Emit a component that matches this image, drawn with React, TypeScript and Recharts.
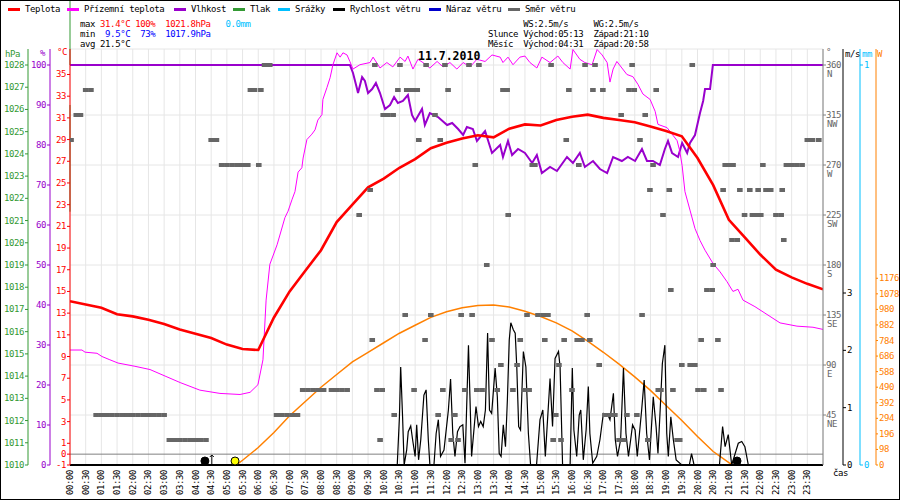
import {
  ComposedChart,
  Line,
  Scatter,
  XAxis,
  YAxis,
  CartesianGrid,
  ReferenceLine,
} from "recharts";

const MONO = "'DejaVu Sans Mono', monospace";

// popisky časové osy (po půlhodinách)
const casy = [
  "00:00", "00:30", "01:00", "01:30", "02:00", "02:30", "03:00", "03:30",
  "04:00", "04:30", "05:00", "05:30", "06:00", "06:30", "07:00", "07:30",
  "08:00", "08:30", "09:00", "09:30", "10:00", "10:30", "11:00", "11:30",
  "12:00", "12:30", "13:00", "13:30", "14:00", "14:30", "15:00", "15:30",
  "16:00", "16:30", "17:00", "17:30", "18:00", "18:30", "19:00", "19:30",
  "20:00", "20:30", "21:00", "21:30", "22:00", "22:30", "23:00", "23:30",
];

// ticky os
const tickyTeplota = [-1, 0, 1, 3, 5, 7, 9, 11, 13, 15, 17, 19, 21, 23, 25, 27, 29, 31, 33, 35];
const tickyVlhkost = [0, 10, 20, 30, 40, 50, 60, 70, 80, 90, 100];
const tickyTlak = [1010, 1011, 1012, 1013, 1014, 1015, 1016, 1017, 1018, 1019, 1020, 1021, 1022, 1023, 1024, 1025, 1026, 1027, 1028];
const tickySmer = [45, 90, 135, 180, 225, 270, 315, 360];
const popiskySmer = ["NE", "E", "SE", "S", "SW", "W", "NW", "N"];
const tickyVitr = [0, 1, 2, 3];
const tickySrazky = [0, 1];
const tickySvit = [0, 98, 196, 294, 392, 490, 588, 686, 784, 882, 980, 1078, 1176];

// teplota po půlhodinách 00:00 .. 24:00 [°C]
const teplota = [
  14.1, 13.8, 13.5, 12.9, 12.7, 12.4, 12.0, 11.5, 11.1, 10.7, 10.1, 9.7,
  9.6, 12.6, 15.0, 16.9, 18.8, 21.4, 23.0, 24.6, 25.4, 26.4, 27.2, 28.2,
  28.7, 29.1, 29.4, 29.2, 30.0, 30.4, 30.3, 30.8, 31.1, 31.3, 31.0, 30.8,
  30.6, 30.2, 29.8, 29.3, 27.3, 24.8, 21.6, 20.0, 18.4, 17.0, 16.3, 15.7,
  15.2,
];

// přízemní teplota [hodina, °C]
const prizemni = [
  [0, 9.6], [0.38, 9.6], [0.48, 9.4], [0.86, 9.3], [1.02, 9.0], [1.27, 8.7],
  [1.53, 8.4], [2.07, 8.1], [2.55, 7.8], [3.03, 7.2], [3.51, 6.6], [4.14, 5.9],
  [4.78, 5.6], [5.42, 5.5], [5.74, 5.7], [5.99, 6.4], [6.15, 8.7], [6.25, 14.2],
  [6.37, 17.5], [6.6, 19.3], [6.69, 20.2], [6.85, 21.8], [6.95, 22.4], [7.08, 23.5],
  [7.17, 24.2], [7.27, 26.0], [7.39, 26.4], [7.43, 27.3], [7.55, 29.0], [7.71, 29.5],
  [7.81, 29.9], [7.9, 30.8], [8.03, 31.3], [8.06, 32.7], [8.19, 33.8], [8.29, 34.7],
  [8.38, 35.9], [8.51, 37.0], [8.61, 36.6], [8.7, 37.0], [8.83, 36.8], [8.92, 36.2],
  [9.02, 35.5], [9.24, 35.9], [9.56, 36.1], [9.66, 36.6], [9.88, 35.6], [10.1, 36.1],
  [10.29, 35.7], [10.52, 36.6], [10.68, 36.2], [10.77, 36.7], [10.93, 35.5], [11.09, 36.4],
  [11.25, 36.1], [11.47, 35.6], [11.7, 36.2], [11.89, 35.7], [12.11, 36.1], [12.33, 35.5],
  [12.53, 36.1], [12.75, 35.7], [12.97, 36.4], [13.23, 36.2], [13.45, 36.8], [13.71, 36.6],
  [13.8, 36.1], [13.96, 36.6], [14.12, 35.9], [14.34, 36.6], [14.5, 36.7], [14.66, 36.1],
  [14.88, 35.6], [15.04, 36.6], [15.3, 36.1], [15.55, 36.7], [15.71, 36.1], [15.94, 35.5],
  [16.03, 37.3], [16.25, 36.4], [16.41, 36.1], [16.64, 35.9], [16.8, 37.3], [16.96, 36.8],
  [17.12, 36.1], [17.21, 34.3], [17.31, 35.5], [17.43, 36.2], [17.59, 35.6], [17.75, 35.0],
  [17.94, 34.8], [18.1, 34.1], [18.26, 33.2], [18.49, 32.7], [18.65, 31.6], [18.74, 30.4],
  [19.03, 30.1], [19.19, 29.5], [19.35, 28.9], [19.43, 28.0], [19.51, 26.6], [19.6, 24.2],
  [19.76, 22.5], [19.92, 20.8], [20.08, 19.7], [20.24, 18.8], [20.49, 17.6], [20.72, 16.8],
  [20.94, 15.9], [21.13, 15.0], [21.29, 15.2], [21.45, 14.2], [21.83, 13.6], [22.15, 13.0],
  [22.63, 12.1], [23.17, 11.8], [23.68, 11.7], [24, 11.5],
];

// vlhkost [hodina, %]
const vlhkost = [
  [0, 100], [8.92, 100], [9.02, 98], [9.15, 94], [9.18, 93], [9.31, 97], [9.4, 96],
  [9.5, 93], [9.63, 94], [9.75, 95.5], [9.88, 93], [10.04, 89], [10.2, 90], [10.33, 92],
  [10.45, 90.5], [10.61, 91], [10.77, 92.5], [10.9, 87.5], [11.0, 86], [11.22, 89],
  [11.31, 85], [11.47, 88], [11.73, 87], [12.02, 85], [12.18, 85.5], [12.37, 84],
  [12.53, 82.5], [12.65, 84.5], [12.84, 84], [12.97, 81], [13.23, 83.5], [13.45, 78],
  [13.71, 80], [13.8, 77], [13.96, 81], [14.09, 77.5], [14.28, 79], [14.5, 78],
  [14.73, 75.5], [14.88, 77.5], [15.04, 73], [15.3, 74.5], [15.52, 73.5], [15.84, 77],
  [16.03, 75.5], [16.25, 78], [16.41, 74.5], [16.67, 76], [16.89, 74], [17.12, 73],
  [17.31, 77], [17.59, 76], [17.78, 77], [18.01, 76], [18.23, 79], [18.39, 76],
  [18.58, 76], [18.8, 75], [18.96, 79], [19.06, 81], [19.19, 78], [19.38, 77],
  [19.51, 80.5], [19.67, 78], [19.76, 80.5], [19.92, 82.5], [20.08, 88], [20.18, 91],
  [20.24, 94], [20.4, 94], [20.49, 100], [24, 100],
];

// rychlost větru [hodina, m/s]
const vitr = [
  [0, 0], [10.43, 0], [10.5, 0.84], [10.54, 1.71], [10.6, 0.84], [10.65, 0], [10.73, 0.26],
  [10.78, 0.58], [10.86, 0.68], [10.92, 0.44], [11.0, 0.15], [11.05, 0.7], [11.11, 0.09],
  [11.18, 0.44], [11.28, 1.22], [11.35, 1.31], [11.42, 0.44], [11.47, 0], [11.6, 0],
  [11.67, 0.55], [11.74, 0.79], [11.81, 0.15], [11.92, 0.26], [12.06, 0.96], [12.13, 1.5],
  [12.2, 0.55], [12.27, 0.15], [12.35, 0.58], [12.43, 0.67], [12.52, 0.7], [12.59, 0.03],
  [12.7, 2.09], [12.75, 1.13], [12.8, 0.15], [12.94, 1.02], [13.02, 0.67], [13.09, 0.76],
  [13.17, 0.67], [13.24, 0.96], [13.31, 2.3], [13.37, 0.96], [13.44, 0.9], [13.55, 1.69],
  [13.62, 1.19], [13.68, 0.2], [13.74, 0.15], [13.81, 0.7], [13.88, 0.32], [13.94, 1.13],
  [14.0, 2.18], [14.05, 2.48], [14.13, 2.36], [14.19, 2.3], [14.24, 1.71], [14.3, 0.67],
  [14.36, 0.61], [14.45, 1.98], [14.53, 1.71], [14.61, 0.55], [14.68, 0], [14.87, 0],
  [14.98, 0.79], [15.07, 0.96], [15.15, 0.15], [15.3, 1.51], [15.38, 0.67], [15.46, 1.86],
  [15.57, 1.98], [15.62, 1.71], [15.7, 0], [15.94, 0], [16.01, 1.69], [16.06, 0.61],
  [16.15, 0.15], [16.23, 0.87], [16.28, 0.96], [16.36, 0.09], [16.45, 0.61], [16.52, 1.37],
  [16.57, 0.55], [16.66, 0.03], [16.79, 0.15], [16.89, 0.44], [17.0, 0.9], [17.13, 0.89],
  [17.21, 0.79], [17.32, 1.25], [17.38, 0.44], [17.45, 0.15], [17.55, 0.44], [17.64, 1.69],
  [17.72, 0.55], [17.8, 0.15], [17.87, 0.44], [17.93, 0.7], [18.01, 0.61], [18.08, 0.15],
  [18.15, 0.55], [18.22, 0.96], [18.3, 1.48], [18.38, 0.55], [18.47, 0.09], [18.59, 1.19],
  [18.68, 0.67], [18.74, 0.2], [18.81, 0.96], [18.88, 1.77], [18.96, 2.09], [19.02, 0.55],
  [19.07, 0.15], [19.15, 0.84], [19.23, 0.44], [19.32, 0.09], [19.5, 0], [19.74, 0],
  [19.81, 0.2], [19.89, 0], [20.7, 0], [20.8, 0.67], [20.88, 0.32], [20.98, 0.53],
  [21.09, 0], [21.3, 0.38], [21.41, 0.41], [21.51, 0.32], [21.62, 0], [24, 0],
];

// srážky [hodina, mm]
const srazky = [[10.45, 0], [21.6, 0]];

// sluneční svit (teoretický) [hodina, W]
const svit = [
  [5.3, 0], [5.5, 30], [6, 110], [6.5, 205], [7, 310], [7.5, 400], [8, 490],
  [8.5, 570], [9, 650], [9.5, 710], [10, 770], [10.5, 830], [11, 880], [11.5, 930],
  [12, 965], [12.5, 990], [13, 1005], [13.5, 1008], [14, 995], [14.5, 968], [15, 935],
  [15.5, 895], [16, 845], [16.5, 780], [17, 710], [17.5, 635], [18, 555], [18.5, 470],
  [19, 375], [19.5, 280], [20, 180], [20.5, 85], [21, 15], [21.12, 0],
];

// směr větru [minuta, °]
const smer = [
  [2, 292.5], [12, 315], [20, 315], [30, 337.5], [40, 337.5],
  [50, 45], [60, 45], [70, 45], [80, 45], [90, 45], [100, 45], [110, 45],
  [120, 45], [130, 45], [140, 45], [150, 45], [160, 45], [170, 45], [180, 45],
  [190, 22.5], [200, 22.5], [210, 22.5], [220, 22.5], [230, 22.5], [240, 22.5],
  [250, 22.5], [260, 22.5], [270, 292.5], [280, 292.5],
  [290, 270], [300, 270], [310, 270], [320, 270], [330, 270], [340, 270],
  [345, 337.5], [353, 337.5], [361, 270], [365, 337.5], [372, 360], [382, 360],
  [395, 45], [405, 45], [415, 45], [425, 45], [435, 45],
  [445, 67.5], [455, 67.5], [465, 67.5], [475, 67.5], [485, 67.5], [500, 67.5],
  [510, 67.5], [520, 67.5], [530, 67.5],
  [553, 225], [574, 247.5], [578, 112.5], [583, 360], [587, 67.5], [593, 22.5],
  [597, 67.5], [599, 315], [608, 315], [618, 315], [620, 45], [627, 337.5], [631, 360],
  [641, 135], [644, 337.5], [650, 337.5], [656, 337.5], [658, 67.5], [664, 337.5],
  [667, 292.5], [679, 112.5], [681, 360], [690, 135], [698, 315], [704, 45],
  [708, 292.5], [713, 67.5], [717, 360], [723, 337.5], [729, 22.5], [736, 45],
  [742, 22.5], [748, 135], [755, 67.5], [763, 360], [769, 135], [775, 270],
  [778, 67.5], [782, 360], [788, 67.5], [797, 180], [807, 112.5], [817, 67.5],
  [824, 90], [828, 337.5], [836, 337.5], [838, 225], [847, 67.5], [855, 90],
  [861, 112.5], [868, 67.5], [874, 135], [878, 67.5], [884, 270], [889, 270],
  [895, 135], [905, 135], [908, 112.5], [914, 135], [920, 360], [924, 22.5],
  [929, 45], [935, 90], [939, 22.5], [945, 112.5], [949, 292.5], [954, 337.5],
  [960, 67.5], [970, 112.5], [973, 270], [979, 112.5], [985, 360], [989, 135],
  [994, 112.5], [1000, 337.5], [1004, 360], [1012, 90], [1019, 337.5], [1023, 45],
  [1033, 45], [1042, 45], [1050, 22.5], [1054, 315], [1059, 22.5], [1065, 45],
  [1069, 337.5], [1075, 360], [1079, 337.5], [1084, 45], [1090, 292.5], [1094, 135],
  [1100, 315], [1105, 22.5], [1109, 247.5], [1115, 270], [1121, 337.5], [1125, 67.5],
  [1130, 67.5], [1134, 225], [1146, 247.5], [1149, 157.5], [1153, 67.5], [1161, 22.5],
  [1166, 22.5], [1170, 90], [1186, 90], [1190, 360], [1195, 90], [1201, 67.5],
  [1207, 112.5], [1212, 67.5], [1218, 157.5], [1228, 157.5], [1230, 180], [1239, 112.5],
  [1245, 67.5], [1249, 247.5], [1253, 270], [1260, 270], [1266, 202.5], [1268, 270],
  [1276, 202.5], [1281, 247.5], [1290, 225], [1300, 247.5], [1305, 225], [1311, 225],
  [1316, 247.5], [1321, 225], [1325, 270], [1331, 247.5], [1340, 247.5], [1350, 225],
  [1360, 225], [1362, 247.5], [1365, 202.5], [1370, 270], [1380, 270], [1390, 270],
  [1400, 270], [1410, 292.5], [1420, 292.5], [1432, 292.5],
];

// východ / západ [hodina, druh]
const udalosti: [number, string][] = [
  [4.3, "mesic"], [4.52, "sipka"], [5.26, "slunce"], [21.26, "mesic"],
];

const MARK_Y = -0.63;

const body = (arr: number[][]) => arr.map(([h, v]) => ({ h, v }));

const ValTick = (props: any) => {
  const { x, y, payload, textAnchor, barva } = props;
  return (
    <text x={x} y={y} dy={3} textAnchor={textAnchor} fill={barva}
      fontSize={9} fontFamily={MONO} letterSpacing={-0.4}>
      {payload.value}
    </text>
  );
};

const SmerTick = (props: any) => {
  const { x, y, payload } = props;
  const i = tickySmer.indexOf(payload.value);
  return (
    <g fill="#666" fontSize={9} fontFamily={MONO} letterSpacing={-0.4}>
      <text x={x} y={y} dy={3} textAnchor="start">{payload.value}</text>
      <text x={x + 1} y={y + 9} dy={3} textAnchor="start">{popiskySmer[i]}</text>
    </g>
  );
};

const CasTick = (props: any) => {
  const { x, y, payload } = props;
  const label = casy[Math.round(payload.value * 2)];
  return (
    <text transform={`translate(${x},${y - 3}) rotate(-90)`} dy={3} textAnchor="end"
      fill="#000" fontSize={9} fontFamily={MONO} letterSpacing={-0.4}>
      {label}
    </text>
  );
};

const SmerDot = (props: any) => {
  const { cx, cy } = props;
  return <rect x={cx - 2.8} y={cy - 2} width={5.6} height={4} fill="#666" />;
};

const Udalost = (props: any) => {
  const { cx, cy, payload } = props;
  if (payload.druh === "sipka") {
    return (
      <g stroke="#000" strokeWidth={1} fill="none">
        <line x1={cx} y1={cy + 4} x2={cx} y2={cy - 6} />
        <polyline points={`${cx - 2},${cy - 4} ${cx},${cy - 6} ${cx + 2},${cy - 4}`} />
      </g>
    );
  }
  const fill = payload.druh === "slunce" ? "#ffff00" : "#000";
  return <circle cx={cx} cy={cy} r={4} fill={fill} stroke="#000" strokeWidth={1} />;
};

const legenda = [
  ["Teplota", "#ff0000"],
  ["Přízemní teplota", "#ff00ff"],
  ["Vlhkost", "#9900cc"],
  ["Tlak", "#339933"],
  ["Srážky", "#00bfff"],
  ["Rychlost větru", "#000000"],
  ["Náraz větru", "#0000cc"],
  ["Směr větru", "#666666"],
];
const legendaX = [25, 84, 191, 250, 295, 350, 446, 525];

const txt: React.CSSProperties = {
  position: "absolute",
  fontFamily: MONO,
  fontSize: 9,
  letterSpacing: -0.4,
  lineHeight: "10px",
  whiteSpace: "pre",
  color: "#000",
};

// id os: pořadí od grafu ven
const OS_TEPLOTA = "a1";
const OS_VLHKOST = "a2";
const OS_TLAK = "a3";
const OS_SMER = "b1";
const OS_VITR = "b2";
const OS_SRAZKY = "b3";
const OS_SVIT = "b4";

export default function App() {
  const teplotaPts = teplota.map((v, i) => ({ h: i * 0.5, v }));
  const smerPts = smer.map(([m, v]) => ({ h: m / 60, v }));
  const udalostPts = udalosti.map(([h, druh]) => ({ h, v: MARK_Y, druh }));
  const xTicky = casy.map((_, i) => i * 0.5);

  return (
    <div style={{ position: "absolute", left: 0, top: 0, width: 900, height: 500, background: "#fff", overflow: "hidden" }}>
      <ComposedChart width={900} height={500} margin={{ top: 49, right: 0, bottom: 0, left: 0 }}>
        <CartesianGrid yAxisId={OS_SMER} stroke="#e6e6e6" />
        <XAxis dataKey="h" type="number" domain={[0, 24]} ticks={xTicky} interval={0}
          allowDataOverflow height={35} tickLine={false}
          axisLine={{ stroke: "#000", strokeWidth: 2 }} tick={<CasTick />} />
        <YAxis yAxisId={OS_TEPLOTA} orientation="left" width={20} domain={[-1, 37.35]} allowDataOverflow
          ticks={tickyTeplota} interval={0} stroke="#ff0000" tickSize={3} tickMargin={1}
          tick={<ValTick barva="#ff0000" />} />
        <YAxis yAxisId={OS_VLHKOST} orientation="left" width={22} domain={[0, 104]} allowDataOverflow
          ticks={tickyVlhkost} interval={0} stroke="#9900cc" tickSize={3} tickMargin={1}
          tick={<ValTick barva="#9900cc" />} />
        <YAxis yAxisId={OS_TLAK} orientation="left" width={28} domain={[1010, 1028.72]} allowDataOverflow
          ticks={tickyTlak} interval={0} stroke="#339933" tickSize={3} tickMargin={1}
          tick={<ValTick barva="#339933" />} />
        <YAxis yAxisId={OS_SMER} orientation="right" width={20} domain={[0, 374.4]} allowDataOverflow
          ticks={tickySmer} interval={0} stroke="#808080" tickSize={3} tickMargin={0}
          tick={<SmerTick />} />
        <YAxis yAxisId={OS_VITR} orientation="right" width={17} domain={[0, 7.256]} allowDataOverflow
          ticks={tickyVitr} interval={0} stroke="#000" tickSize={3} tickMargin={1}
          tick={<ValTick barva="#000" />} />
        <YAxis yAxisId={OS_SRAZKY} orientation="right" width={16} domain={[0, 1.04]} allowDataOverflow
          ticks={tickySrazky} interval={0} stroke="#00bfff" tickSize={3} tickMargin={1}
          tick={<ValTick barva="#00bfff" />} />
        <YAxis yAxisId={OS_SVIT} orientation="right" width={24} domain={[0, 2620]} allowDataOverflow
          ticks={tickySvit} interval={0} stroke="#ff8000" tickSize={2} tickMargin={1}
          tick={<ValTick barva="#ff8000" />} />

        <ReferenceLine yAxisId={OS_TEPLOTA} y={0} stroke="#808080" />
        <ReferenceLine yAxisId={OS_TLAK} ifOverflow="visible" stroke="#339933"
          segment={[{ x: 0, y: 1021.4 }, { x: 0, y: 1026.2 }]} />
        <ReferenceLine yAxisId={OS_TLAK} ifOverflow="visible" stroke="#339933"
          segment={[{ x: 0, y: 1028 }, { x: 0, y: 1030.9 }]} />

        <Line data={body(svit)} dataKey="v" yAxisId={OS_SVIT} stroke="#ff8000" strokeWidth={1.5}
          dot={false} isAnimationActive={false} />
        <Line data={body(vlhkost)} dataKey="v" yAxisId={OS_VLHKOST} stroke="#9900cc" strokeWidth={2}
          dot={false} isAnimationActive={false} />
        <Line data={body(prizemni)} dataKey="v" yAxisId={OS_TEPLOTA} stroke="#ff00ff" strokeWidth={1}
          dot={false} isAnimationActive={false} />
        <Scatter data={smerPts} dataKey="v" yAxisId={OS_SMER} shape={<SmerDot />} isAnimationActive={false} />
        <Line data={teplotaPts} dataKey="v" yAxisId={OS_TEPLOTA} stroke="#ff0000" strokeWidth={2.6}
          dot={false} isAnimationActive={false} />
        <Line data={body(srazky)} dataKey="v" yAxisId={OS_SRAZKY} stroke="#00bfff" strokeWidth={2}
          dot={false} isAnimationActive={false} />
        <Line data={body(vitr)} dataKey="v" yAxisId={OS_VITR} stroke="#000" strokeWidth={1.2}
          dot={false} isAnimationActive={false} />
        <Scatter data={udalostPts} dataKey="v" yAxisId={OS_TEPLOTA} shape={<Udalost />} isAnimationActive={false} />
      </ComposedChart>

      {legenda.map(([name, color], i) => (
        <div key={name}>
          <div style={{ position: "absolute", left: legendaX[i] - 17, top: 8, width: 12, height: 3, background: color }} />
          <div style={{ ...txt, left: legendaX[i], top: 4 }}>{name}</div>
        </div>
      ))}

      <div style={{ ...txt, left: 80, top: 19 }}>
        max <span style={{ color: "#ff0000" }}>31.4°C 100%  1021.8hPa</span>   <span style={{ color: "#00bfff" }}>0.0mm</span>
      </div>
      <div style={{ ...txt, left: 80, top: 29 }}>
        min  <span style={{ color: "#0000ff" }}>9.5°C  73%  1017.9hPa</span>
      </div>
      <div style={{ ...txt, left: 80, top: 39 }}>avg 21.5°C</div>

      <div style={{ ...txt, left: 488, top: 19 }}>{"       WS:2.5m/s     WG:2.5m/s"}</div>
      <div style={{ ...txt, left: 488, top: 29 }}>{"Slunce Východ:05:13  Západ:21:10"}</div>
      <div style={{ ...txt, left: 488, top: 39 }}>{"Měsíc  Východ:04:31  Západ:20:58"}</div>

      <div style={{ ...txt, left: 418, top: 50, fontSize: 11.5, letterSpacing: 0, fontWeight: "bold", lineHeight: "13px" }}>11.7.2010</div>

      <div style={{ ...txt, left: 5, top: 49, color: "#339933" }}>hPa</div>
      <div style={{ ...txt, left: 40, top: 48, color: "#9900cc" }}>%</div>
      <div style={{ ...txt, left: 57, top: 47, color: "#ff0000" }}>°C</div>
      <div style={{ ...txt, left: 826, top: 47, color: "#666" }}>°</div>
      <div style={{ ...txt, left: 845, top: 49, color: "#000" }}>m/s</div>
      <div style={{ ...txt, left: 862, top: 49, color: "#00bfff" }}>mm</div>
      <div style={{ ...txt, left: 877, top: 49, color: "#ff8000" }}>W</div>
      <div style={{ ...txt, left: 833, top: 468, color: "#000" }}>čas</div>

      <div style={{ position: "absolute", left: 0, top: 0, width: 900, height: 500, boxSizing: "border-box", border: "1px solid #000", pointerEvents: "none" }} />
    </div>
  );
}
